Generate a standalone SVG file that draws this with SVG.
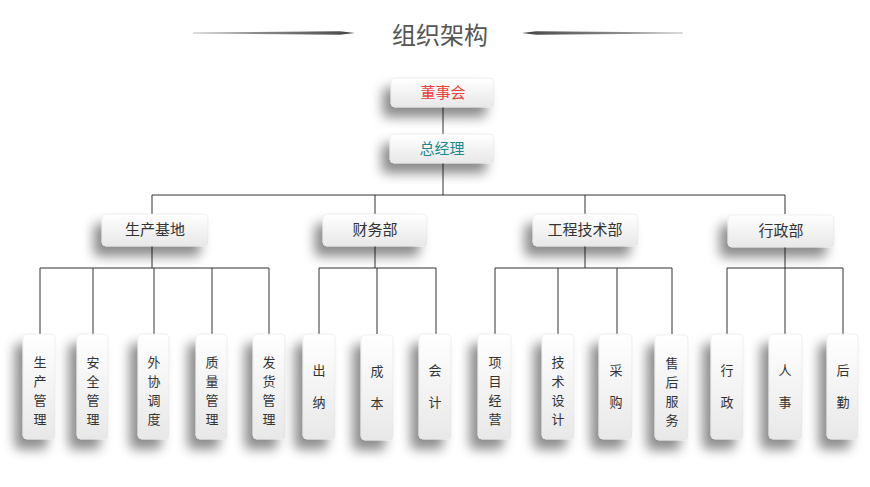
<svg xmlns="http://www.w3.org/2000/svg" width="870" height="487" viewBox="0 0 870 487">
<style>
.box{fill:url(#g);stroke:#e6e6e6;stroke-width:0.6;filter:url(#sh)}
.t{font-family:"Noto Sans CJK SC",sans-serif;font-size:15px;fill:#333;text-anchor:middle}
.v{font-family:"Noto Sans CJK SC",sans-serif;font-size:13px;fill:#333;text-anchor:middle}
.ln{stroke:#333;stroke-width:1;fill:none}
</style>
<defs>
<linearGradient id="g" x1="0" y1="0" x2="0" y2="1">
<stop offset="0" stop-color="#ffffff"/>
<stop offset="1" stop-color="#e8e8e8"/>
</linearGradient>
<linearGradient id="gl" x1="0" y1="0" x2="1" y2="0">
<stop offset="0" stop-color="#bbb"/>
<stop offset="1" stop-color="#444"/>
</linearGradient>
<linearGradient id="gr" x1="1" y1="0" x2="0" y2="0">
<stop offset="0" stop-color="#bbb"/>
<stop offset="1" stop-color="#444"/>
</linearGradient>
<filter id="sh" x="-80%" y="-50%" width="220%" height="220%">
<feDropShadow dx="-8" dy="10" stdDeviation="6" flood-color="#000" flood-opacity="0.45"/>
</filter>
</defs>
<g id="title">
<polygon points="193,32.6 340,31.3 355,33 340,34.7 193,33.4" fill="url(#gl)"/>
<polygon points="683,32.6 536,31.3 522,33 536,34.7 683,33.4" fill="url(#gr)"/>
<text x="440" y="44" font-family="Noto Sans CJK SC,sans-serif" font-size="24" fill="#555" text-anchor="middle">组织架构</text>
</g>
<g id="connectors">
<path class="ln" d="M443,107V134M443,163V195M152,195H785M152,195V214M375,195V214M585,195V214M785,195V214"/>
<path class="ln" d="M152,246V268M40,268H269M40,268V334M93,268V334M154,268V334M212,268V334M269,268V334"/>
<path class="ln" d="M375,246V268M319,268H436M319,268V334M377,268V334M436,268V334"/>
<path class="ln" d="M585,246V268M495,268H672M495,268V334M558,268V334M617,268V334M672,268V334"/>
<path class="ln" d="M785,246V268M727,268H843M727,268V334M785,268V334M843,268V334"/>
</g>
<g id="n-dongshihui"><rect class="box" x="391" y="78" width="103" height="29" rx="4"/><text class="t" x="443" y="98" style="fill:#e8413c">董事会</text></g>
<g id="n-zongjingli"><rect class="box" x="390" y="134" width="104" height="29" rx="4"/><text class="t" x="442" y="154" style="fill:#1a8a8a">总经理</text></g>
<g id="n-shengchanjidi"><rect class="box" x="102" y="214" width="106" height="32" rx="4"/><text class="t" x="155" y="235">生产基地</text></g>
<g id="n-caiwubu"><rect class="box" x="323" y="214" width="104" height="32" rx="4"/><text class="t" x="375" y="235">财务部</text></g>
<g id="n-gongchengjishubu"><rect class="box" x="533" y="214" width="105" height="32" rx="4"/><text class="t" x="585" y="235">工程技术部</text></g>
<g id="n-xingzhengbu"><rect class="box" x="728" y="215" width="106" height="32" rx="4"/><text class="t" x="781" y="236">行政部</text></g>
<g id="n-scgl"><rect class="box" x="23" y="334" width="32" height="105" rx="4"/><text class="v"><tspan x="40" y="367">生</tspan><tspan x="40" y="386">产</tspan><tspan x="40" y="405">管</tspan><tspan x="40" y="424">理</tspan></text></g>
<g id="n-aqgl"><rect class="box" x="77" y="334" width="31" height="105" rx="4"/><text class="v"><tspan x="93" y="367">安</tspan><tspan x="93" y="386">全</tspan><tspan x="93" y="405">管</tspan><tspan x="93" y="424">理</tspan></text></g>
<g id="n-wxdd"><rect class="box" x="138" y="334" width="31" height="105" rx="4"/><text class="v"><tspan x="154" y="367">外</tspan><tspan x="154" y="386">协</tspan><tspan x="154" y="405">调</tspan><tspan x="154" y="424">度</tspan></text></g>
<g id="n-zlgl"><rect class="box" x="196" y="334" width="31" height="105" rx="4"/><text class="v"><tspan x="212" y="367">质</tspan><tspan x="212" y="386">量</tspan><tspan x="212" y="405">管</tspan><tspan x="212" y="424">理</tspan></text></g>
<g id="n-fhgl"><rect class="box" x="253" y="334" width="32" height="105" rx="4"/><text class="v"><tspan x="269" y="367">发</tspan><tspan x="269" y="386">货</tspan><tspan x="269" y="405">管</tspan><tspan x="269" y="424">理</tspan></text></g>
<g id="n-chuna"><rect class="box" x="303" y="334" width="32" height="105" rx="4"/><text class="v"><tspan x="319" y="375">出</tspan><tspan x="319" y="407">纳</tspan></text></g>
<g id="n-chengben"><rect class="box" x="361" y="335" width="32" height="105" rx="4"/><text class="v"><tspan x="377" y="376">成</tspan><tspan x="377" y="408">本</tspan></text></g>
<g id="n-kuaiji"><rect class="box" x="419" y="334" width="32" height="105" rx="4"/><text class="v"><tspan x="435" y="375">会</tspan><tspan x="435" y="407">计</tspan></text></g>
<g id="n-xmjy"><rect class="box" x="478" y="334" width="33" height="105" rx="4"/><text class="v"><tspan x="495" y="367">项</tspan><tspan x="495" y="386">目</tspan><tspan x="495" y="405">经</tspan><tspan x="495" y="424">营</tspan></text></g>
<g id="n-jssj"><rect class="box" x="542" y="334" width="32" height="105" rx="4"/><text class="v"><tspan x="558" y="367">技</tspan><tspan x="558" y="386">术</tspan><tspan x="558" y="405">设</tspan><tspan x="558" y="424">计</tspan></text></g>
<g id="n-caigou"><rect class="box" x="599" y="334" width="33" height="105" rx="4"/><text class="v"><tspan x="616" y="375">采</tspan><tspan x="616" y="407">购</tspan></text></g>
<g id="n-shfw"><rect class="box" x="655" y="335" width="33" height="105" rx="4"/><text class="v"><tspan x="672" y="368">售</tspan><tspan x="672" y="387">后</tspan><tspan x="672" y="406">服</tspan><tspan x="672" y="425">务</tspan></text></g>
<g id="n-xingzheng"><rect class="box" x="711" y="334" width="32" height="105" rx="4"/><text class="v"><tspan x="727" y="375">行</tspan><tspan x="727" y="407">政</tspan></text></g>
<g id="n-renshi"><rect class="box" x="769" y="334" width="33" height="105" rx="4"/><text class="v"><tspan x="785" y="375">人</tspan><tspan x="785" y="407">事</tspan></text></g>
<g id="n-houqin"><rect class="box" x="827" y="334" width="31" height="105" rx="4"/><text class="v"><tspan x="843" y="375">后</tspan><tspan x="843" y="407">勤</tspan></text></g>
</svg>
